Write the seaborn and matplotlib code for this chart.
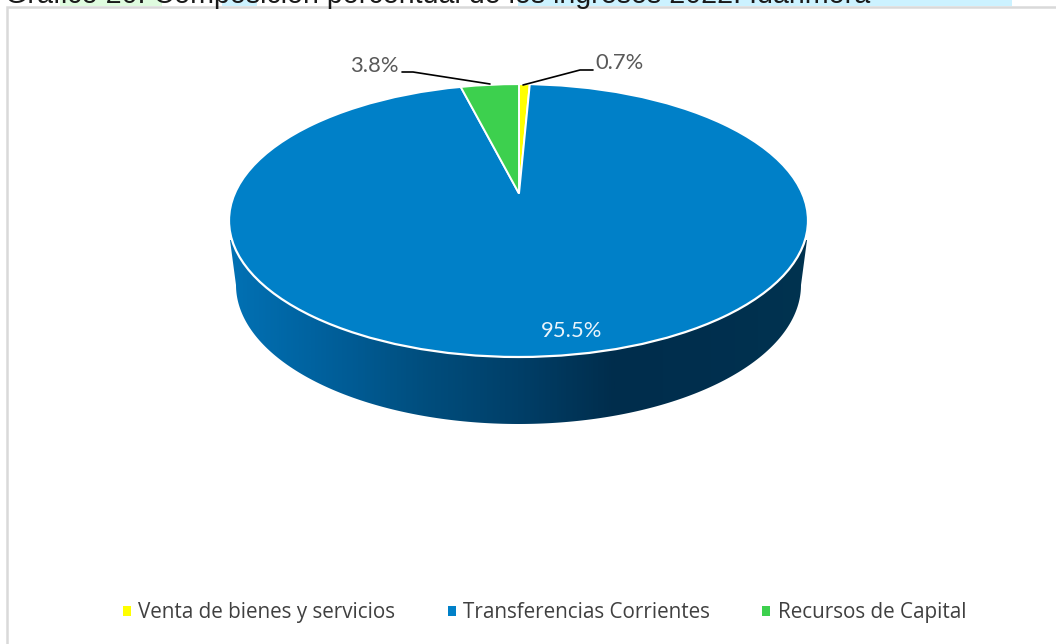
import matplotlib
matplotlib.use("Agg")
import matplotlib.pyplot as plt
import numpy as np
import seaborn as sns
from matplotlib.colors import LinearSegmentedColormap
from matplotlib.patches import Ellipse, Polygon, Rectangle

categories = ["Venta de bienes y servicios", "Transferencias Corrientes", "Recursos de Capital"]
values = [0.7, 95.5, 3.8]
colors = ["#FFFF00", "#0080C8", "#3DD04E"]
title = "Gráfico 20. Composición porcentual de los ingresos 2022. Idanmora"
side_colors = ["#0271B4", "#00609C", "#004E7E", "#003F68", "#002D4C", "#002F4E", "#003350"]

sns.set_theme(style="white")
W, H = 1056, 644
fig = plt.figure(figsize=(W / 100, H / 100), dpi=100)
fig.patch.set_facecolor("white")

# pixel-space background layer
bg = fig.add_axes([0, 0, 1, 1], zorder=1)
bg.set_xlim(0, W)
bg.set_ylim(H, 0)
bg.axis("off")

for x0, x1, c in [(60, 162, "#DFFBDF"), (222, 257, "#CCF2FF"), (518, 1012, "#CCF2FF")]:
    bg.add_patch(Rectangle((x0, 0), x1 - x0, 6, fc=c, ec="none"))
bg.plot([7, 7, W], [H, 6.5, 6.5], color="#D9D9D9", lw=1.8, solid_joinstyle="miter")
bg.text(5, 3.0, title, family="Liberation Sans", fontsize=20.6, color="#1a1a1a", ha="left", va="baseline")

# extruded side with horizontal gradient
cmap = LinearSegmentedColormap.from_list("side", side_colors)
grad = np.linspace(0, 1, 600).reshape(1, -1)
im = bg.imshow(grad, cmap=cmap, extent=[229, 808, 430, 230], aspect="auto", zorder=2)
bg.set_xlim(0, W)
bg.set_ylim(H, 0)
t = np.linspace(np.pi, 0, 200)
low = np.column_stack([518.5 + 282.5 * np.cos(t), 285 + 139 * np.sin(t)])
edge = np.vstack([[[230, 240]], low, [[807, 240]]])
clip = Polygon(edge, closed=True, fc="none", ec="none", transform=bg.transData)
bg.add_patch(clip)
im.set_clip_path(clip)

# top face: pie around the apex, flattened and clipped to the face ellipse
apex_x, apex_y, squash = 519, 193.5, 0.445
ax = fig.add_axes([0, 0, 1, 1], zorder=2)
ax.patch.set_alpha(0)
wedges, _ = ax.pie(values, colors=colors, startangle=90, counterclock=False, radius=700,
                   center=(0, 0), wedgeprops=dict(edgecolor="white", linewidth=1.4))
ax.set_aspect("auto")
ax.set_xlim(-apex_x, W - apex_x)
ax.set_ylim(-(H - apex_y) / squash, apex_y / squash)
ax.axis("off")
face = Ellipse((518.5 - apex_x, (apex_y - 220.5) / squash), 579, 273 / squash,
               fc="none", ec="white", lw=1.6, zorder=5)
ax.add_patch(face)
for w in wedges:
    w.set_clip_on(True)
    w.set_clip_path(face)

# labels and leader lines, drawn in pixel space
top = fig.add_axes([0, 0, 1, 1], zorder=3)
top.set_xlim(0, W)
top.set_ylim(H, 0)
top.axis("off")
lab = dict(family="Lato", fontsize=15.8, ha="center", va="center")
top.text(374, 66, f"{values[2]:.1f}%", color="#595959", **lab)
top.text(619.5, 63, f"{values[0]:.1f}%", color="#595959", **lab)
top.text(572, 331, f"{values[1]:.1f}%", color="#EAF4FB", **lab)
top.plot([402, 413, 490], [72, 72, 84], color="black", lw=1.2)
top.plot([593, 580, 523], [70, 70, 85], color="black", lw=1.2)

leg = top.legend(wedges, categories, loc="center", bbox_to_anchor=(544.5 / W, 1 - 612.5 / H), ncol=3, frameon=False,
                 prop=dict(family="Open Sans", size=14.85), labelcolor="#404040",
                 handlelength=0.38, handleheight=0.38, handletextpad=0.36, columnspacing=2.55)
for h in leg.get_patches():
    h.set_edgecolor("none")
    h.set_clip_on(False)

fig.savefig("out.png", dpi=100)
